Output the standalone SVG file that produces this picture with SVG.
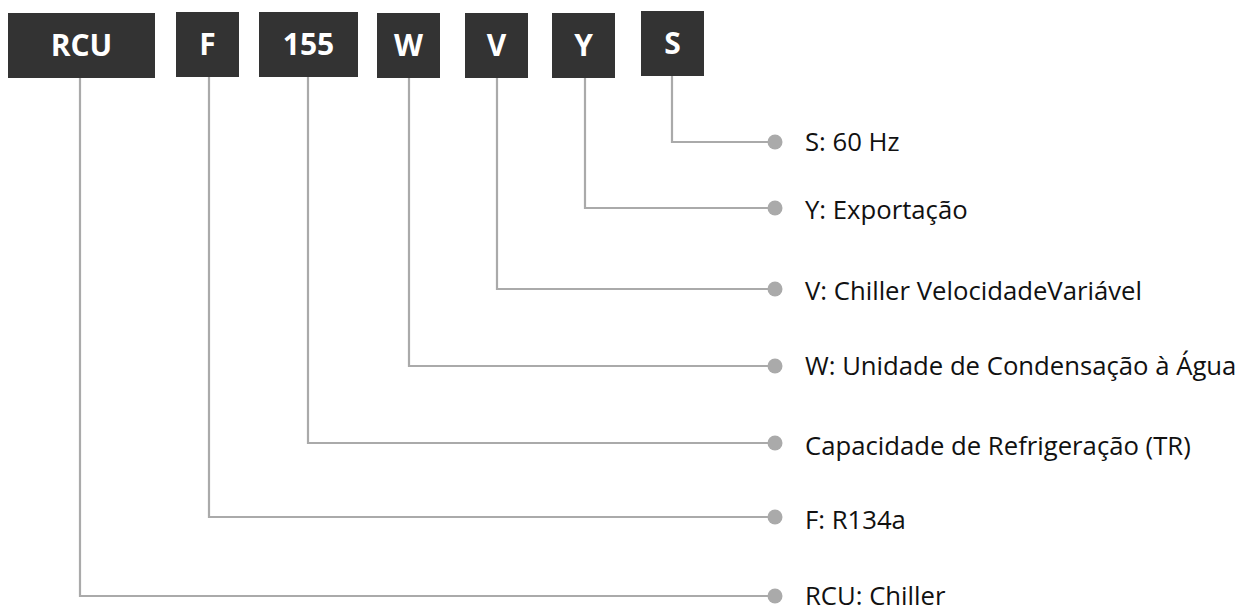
<svg xmlns="http://www.w3.org/2000/svg" width="1240" height="612" viewBox="0 0 1240 612">
<style>
.box{fill:#333333}
.bt{fill:#ffffff;font-family:"Open Sans","Noto Sans",sans-serif;font-weight:bold;font-size:30px;text-anchor:middle}
.lt{fill:#111111;font-family:"Open Sans","Noto Sans",sans-serif;font-size:25.7px}
.ln{fill:none;stroke:#aaaaaa;stroke-width:2.2}
.dot{fill:#aaaaaa}
</style>
<rect width="1240" height="612" fill="#ffffff"/>
<g id="connectors">
<polyline class="ln" points="672,76 672,142 775,142"/>
<polyline class="ln" points="585,78 585,208 775,208"/>
<polyline class="ln" points="497,78 497,289 775,289"/>
<polyline class="ln" points="409,78 409,366 775,366"/>
<polyline class="ln" points="308,77 308,443 775,443"/>
<polyline class="ln" points="209,77 209,517 775,517"/>
<polyline class="ln" points="80,78 80,596 775,596"/>
<circle class="dot" cx="775" cy="142" r="7.5"/>
<circle class="dot" cx="775" cy="208" r="7.5"/>
<circle class="dot" cx="775" cy="289" r="7.5"/>
<circle class="dot" cx="775" cy="366" r="7.5"/>
<circle class="dot" cx="775" cy="443" r="7.5"/>
<circle class="dot" cx="775" cy="517" r="7.5"/>
<circle class="dot" cx="775" cy="596" r="7.5"/>
</g>
<g id="n-rcu"><rect class="box" x="8" y="13" width="147" height="65"/><text class="bt" x="81.5" y="56">RCU</text></g>
<g id="n-f"><rect class="box" x="176" y="12" width="63" height="65"/><text class="bt" x="207.5" y="55">F</text></g>
<g id="n-155"><rect class="box" x="259" y="12" width="99" height="65"/><text class="bt" x="308.5" y="55">155</text></g>
<g id="n-w"><rect class="box" x="377" y="13" width="63" height="65"/><text class="bt" x="408.5" y="56">W</text></g>
<g id="n-v"><rect class="box" x="465" y="13" width="63" height="65"/><text class="bt" x="496.5" y="56">V</text></g>
<g id="n-y"><rect class="box" x="552" y="13" width="63" height="65"/><text class="bt" x="583.5" y="56">Y</text></g>
<g id="n-s"><rect class="box" x="641" y="11" width="63" height="65"/><text class="bt" x="672.5" y="54">S</text></g>
<g id="l-s"><text class="lt" x="805" y="151">S: 60 Hz</text></g>
<g id="l-y"><text class="lt" x="805" y="219">Y: Exportação</text></g>
<g id="l-v"><text class="lt" x="805" y="300">V: Chiller VelocidadeVariável</text></g>
<g id="l-w"><text class="lt" x="805" y="375">W: Unidade de Condensação à Água</text></g>
<g id="l-155"><text class="lt" x="805" y="455">Capacidade de Refrigeração (TR)</text></g>
<g id="l-f"><text class="lt" x="805" y="529">F: R134a</text></g>
<g id="l-rcu"><text class="lt" x="805" y="605">RCU: Chiller</text></g>
</svg>
